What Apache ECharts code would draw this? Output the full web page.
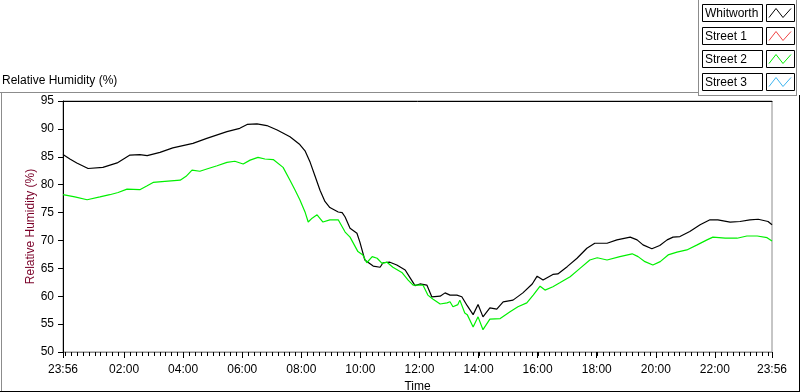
<!DOCTYPE html>
<html>
<head>
<meta charset="utf-8">
<script src="https://cdn.jsdelivr.net/npm/echarts@6/dist/echarts.min.js"></script>
<style>
  html, body { margin: 0; padding: 0; background: #fff; }
  #chart { width: 800px; height: 392px; }
</style>
</head>
<body>
<div id="chart"></div>
<script>
  // time = minutes after 23:56 (the chart spans 24 h)
  const whitworthTime = [0, 14, 28, 51, 81, 110, 136, 156, 171, 197, 223, 264, 292, 333, 359, 374, 394, 414, 435, 461,
    481, 492, 502, 512, 522, 532, 542, 559, 567, 573, 583, 597, 603, 613, 630, 644, 650, 664, 678, 695,
    705, 715, 725, 739, 749, 766, 776, 786, 800, 810, 821, 833, 843, 853, 867, 881, 894, 914, 934, 953,
    963, 975, 995, 1005, 1024, 1044, 1064, 1080, 1105, 1125, 1152, 1166, 1178, 1196, 1212, 1227, 1239, 1253, 1273, 1294,
    1314, 1330, 1355, 1375, 1395, 1412, 1432, 1440]
  const whitworthRH = [85.4, 84.6, 83.9, 82.9, 83.1, 83.9, 85.3, 85.4, 85.2, 85.8, 86.6, 87.4, 88.3, 89.5, 90.1, 90.8, 90.9, 90.6, 89.8, 88.6,
    87.2, 86.0, 84.0, 81.5, 79.0, 77.0, 75.9, 75.1, 75.0, 74.2, 72.2, 71.3, 69.7, 66.5, 65.4, 65.2, 66.0, 66.1, 65.6, 64.7,
    63.3, 61.9, 62.2, 62.0, 59.9, 60.0, 60.6, 60.2, 60.2, 59.9, 58.3, 56.7, 58.5, 56.3, 57.9, 57.7, 59.0, 59.3, 60.6, 62.2,
    63.6, 62.9, 63.9, 64.0, 65.3, 66.8, 68.6, 69.5, 69.5, 70.1, 70.6, 70.1, 69.2, 68.5, 69.1, 70.1, 70.6, 70.7, 71.6, 72.8,
    73.7, 73.7, 73.3, 73.4, 73.7, 73.8, 73.4, 72.8]

  const street2Time = [0, 24, 49, 75, 95, 112, 130, 156, 171, 183, 207, 238, 250, 262, 278, 292, 313, 333, 349, 366,
    380, 396, 410, 427, 447, 461, 471, 481, 492, 498, 506, 516, 528, 542, 559, 573, 583, 599, 609, 617,
    628, 638, 648, 658, 670, 689, 701, 711, 719, 731, 741, 751, 766, 780, 786, 792, 802, 806, 816, 821,
    833, 837, 843, 853, 867, 888, 908, 924, 942, 955, 969, 979, 995, 1009, 1030, 1050, 1070, 1085, 1105, 1131,
    1156, 1168, 1182, 1198, 1213, 1229, 1247, 1267, 1288, 1308, 1320, 1345, 1369, 1389, 1410, 1430, 1440]
  const street2RH = [78.2, 77.8, 77.3, 77.8, 78.2, 78.6, 79.2, 79.1, 79.8, 80.4, 80.6, 80.8, 81.5, 82.6, 82.4, 82.8, 83.4, 84.0, 84.2, 83.7,
    84.4, 84.9, 84.6, 84.5, 83.1, 80.8, 79.1, 77.3, 75.0, 73.3, 74.0, 74.6, 73.3, 73.7, 73.7, 71.5, 70.6, 68.0, 67.4, 66.0,
    67.1, 66.8, 65.9, 66.1, 65.2, 64.2, 62.9, 62.0, 62.0, 62.0, 60.2, 59.5, 58.6, 58.8, 59.0, 58.1, 58.5, 59.3, 57.0, 56.7,
    54.5, 54.3, 56.3, 54.0, 55.9, 56.0, 57.2, 58.1, 58.8, 60.2, 61.8, 61.1, 61.7, 62.4, 63.5, 65.0, 66.5, 66.9, 66.5, 67.1,
    67.6, 67.1, 66.2, 65.6, 66.2, 67.4, 67.9, 68.3, 69.2, 70.1, 70.6, 70.4, 70.4, 70.8, 70.8, 70.5, 69.9]

  // Street 1 and Street 3 have no samples on the plot
  const street1RH = []
  const street3RH = []

  const xTickValues = [0, 124, 244, 364, 484, 604, 724, 844, 964, 1084, 1204, 1324, 1440]
  const xTickLabels = ['23:56', '02:00', '04:00', '06:00', '08:00', '10:00', '12:00', '14:00',
    '16:00', '18:00', '20:00', '22:00', '23:56']

  const seriesNames = ['Whitworth', 'Street 1', 'Street 2', 'Street 3']
  const seriesColors = ['#000000', '#f04646', '#00f000', '#3cb4f0']

  const FONT = 'Liberation Sans'

  function zip(ts, vs) {
    return ts.map((t, i) => [t, vs[i]])
  }

  // minor ticks every 12 min, starting from 00:00
  const minorTicks = []
  for (let t = 4; t <= 1436; t += 12) minorTicks.push(t)

  const seriesData = [
    zip(whitworthTime, whitworthRH),
    street1RH,
    zip(street2Time, street2RH),
    street3RH
  ]

  function hline(x1, x2, y, color) {
    return { type: 'line', silent: true, shape: { x1: x1, y1: y, x2: x2, y2: y }, style: { stroke: color, lineWidth: 1 } }
  }
  function vline(x, y1, y2, color) {
    return { type: 'line', silent: true, shape: { x1: x, y1: y1, x2: x, y2: y2 }, style: { stroke: color, lineWidth: 1 } }
  }

  const graphics = [
    // panel frame
    hline(0, 698, 92.5, '#8c8c8c'),
    vline(1.5, 92, 392, '#8c8c8c'),
    vline(799.5, 95, 392, '#000'),
    hline(0, 800, 391.5, '#000'),
    // legend panel frame
    vline(698.5, 0, 96, '#8c8c8c'),
    hline(698, 797, 95.5, '#8c8c8c'),
    vline(796.5, 0, 96, '#8c8c8c'),
    {
      type: 'text', left: 2, top: 75,
      style: { text: 'Relative Humidity (%)', fill: '#000', font: '12px ' + FONT }
    }
  ]
  // plot legend: name box + line sample box
  seriesNames.forEach((n, i) => {
    const y = 4.5 + i * 23
    graphics.push({ type: 'rect', silent: true, shape: { x: 702.5, y: y, width: 60, height: 17 },
      style: { fill: '#fff', stroke: '#000', lineWidth: 1 } })
    graphics.push({ type: 'text', silent: true, x: 705, y: y + 9,
      style: { text: n, fill: '#000', font: '12px ' + FONT, verticalAlign: 'middle' } })
    graphics.push({ type: 'rect', silent: true, shape: { x: 766.5, y: y, width: 28, height: 17 },
      style: { fill: '#fff', stroke: '#000', lineWidth: 1 } })
    graphics.push({ type: 'polyline', silent: true,
      shape: { points: [[769, y + 13], [776, y + 4], [783, y + 13], [791, y + 4]] },
      style: { stroke: seriesColors[i], lineWidth: 1, fill: null } })
  })

  const lineSeries = seriesNames.map((n, i) => ({
    name: n,
    type: 'line',
    data: seriesData[i],
    showSymbol: false,
    symbol: 'none',
    lineStyle: { color: seriesColors[i], width: 1.2 },
    itemStyle: { color: seriesColors[i] },
    silent: true
  }))

  // short minor ticks under the time axis
  const minorTickSeries = {
    type: 'custom',
    clip: false,
    z: 10,
    silent: true,
    data: minorTicks.map(t => [t, 50]),
    renderItem: (params, api) => {
      const p = api.coord([api.value(0), 50])
      const x = Math.round(p[0]) + 0.5
      return {
        type: 'line',
        shape: { x1: x, y1: p[1], x2: x, y2: p[1] + 4 },
        style: { stroke: '#000', lineWidth: 1 }
      }
    }
  }

  const chart = echarts.init(document.getElementById('chart'))
  chart.setOption({
    animation: false,
    textStyle: { fontFamily: FONT },
    graphic: graphics,
    grid: {
      left: 63, top: 101, width: 709, height: 251,
      outerBoundsMode: 'none',
      show: true, borderColor: '#8c8c8c', borderWidth: 1, backgroundColor: '#fff'
    },
    xAxis: [{
      type: 'value', min: 0, max: 1440,
      name: 'Time', nameLocation: 'middle', nameGap: 29,
      nameTextStyle: { color: '#000', fontSize: 12 },
      axisLine: { lineStyle: { color: '#8c8c8c' } },
      axisTick: { length: 6, lineStyle: { color: '#000' }, customValues: xTickValues },
      axisLabel: {
        customValues: xTickValues, color: '#000', fontSize: 12, margin: 12,
        formatter: v => xTickLabels[xTickValues.indexOf(v)]
      },
      splitLine: { show: false }
    }, {
      type: 'value', min: 0, max: 1440, position: 'top',
      axisLine: { lineStyle: { color: '#000' } },
      axisTick: { show: false }, axisLabel: { show: false }, splitLine: { show: false }
    }],
    yAxis: {
      type: 'value', min: 50, max: 95, interval: 5,
      name: 'Relative Humidity (%)', nameLocation: 'middle', nameGap: 26,
      nameMoveOverlap: false,
      nameTextStyle: { color: '#7a0028', fontSize: 12 },
      axisLine: { show: true, lineStyle: { color: '#000' } },
      axisTick: { show: true, length: 5, lineStyle: { color: '#000' } },
      axisLabel: { color: '#000', fontSize: 12, margin: 9 },
      splitLine: { show: false }
    },
    series: lineSeries.concat([minorTickSeries])
  })
</script>
</body>
</html>
